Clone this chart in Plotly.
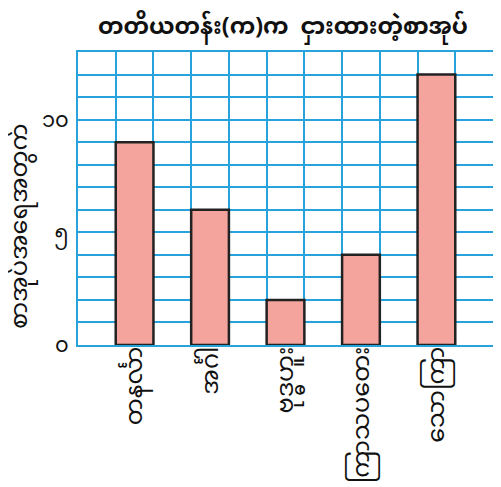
import plotly.graph_objects as go

categories = ["တနင်္လာ", "အင်္ဂါ", "ဗုဒ္ဓဟူး", "ကြာသပတေး", "သောကြာ"]
books = [9, 6, 2, 4, 12]
y_tick_vals = [0, 5, 10]
y_tick_text = ["၀", "၅", "၁၀"]
title_text = "တတိယတန်း(က)က  ငှားထားတဲ့စာအုပ်"
y_title = "စာအုပ်အရေအတွက်"

FONT = "Noto Sans Myanmar, Padauk, Myanmar Text, Noto Sans, sans-serif"
GRID = "#27a2dc"

# page body has an 8px default margin, so the figure is drawn 8px smaller
W, H = 493, 479
L, R, T, B = 70, 8, 44, 142

x_pos = list(range(len(categories)))

fig = go.Figure(
    go.Bar(
        x=x_pos,
        y=books,
        width=0.5,
        marker=dict(color="#f4a49c", line=dict(color="#222222", width=2.5)),
    )
)

fig.update_layout(
    width=W,
    height=H,
    margin=dict(l=L, r=R, t=T, b=B, autoexpand=False),
    paper_bgcolor="white",
    plot_bgcolor="white",
    showlegend=False,
    font=dict(family=FONT, color="#111111"),
    title=dict(
        text=title_text,
        x=275 / W,
        xanchor="center",
        y=1 - 18 / H,
        yanchor="middle",
        font=dict(family=FONT, size=23, color="#111111", weight="bold"),
    ),
    annotations=[
        dict(
            text=y_title,
            xref="paper",
            yref="paper",
            x=(13 - L) / (W - L - R),
            y=(H - B - 218) / (H - T - B),
            xanchor="center",
            yanchor="middle",
            textangle=-90,
            showarrow=False,
            font=dict(family=FONT, size=24, color="#111111"),
        )
    ],
)

fig.update_xaxes(
    range=[-0.75, 4.75],
    tickvals=x_pos,
    ticktext=categories,
    tickangle=-90,
    tickfont=dict(family=FONT, size=24, color="#111111"),
    automargin=False,
    ticklabelstandoff=-10,
    showgrid=False,
    zeroline=False,
    showline=True,
    linecolor=GRID,
    linewidth=2,
    mirror=True,
    ticks="",
    minor=dict(tick0=0.25, dtick=0.5, showgrid=True, gridcolor=GRID, gridwidth=1.5),
)

fig.update_yaxes(
    range=[0, 13],
    tickvals=y_tick_vals,
    ticktext=y_tick_text,
    tickfont=dict(family=FONT, size=21, color="#111111"),
    automargin=False,
    ticklabelstandoff=3,
    showgrid=True,
    gridcolor=GRID,
    gridwidth=1.5,
    zeroline=False,
    showline=True,
    linecolor=GRID,
    linewidth=2,
    mirror=True,
    ticks="",
    minor=dict(dtick=1, showgrid=True, gridcolor=GRID, gridwidth=1.5),
)

fig.write_html("out.html")
